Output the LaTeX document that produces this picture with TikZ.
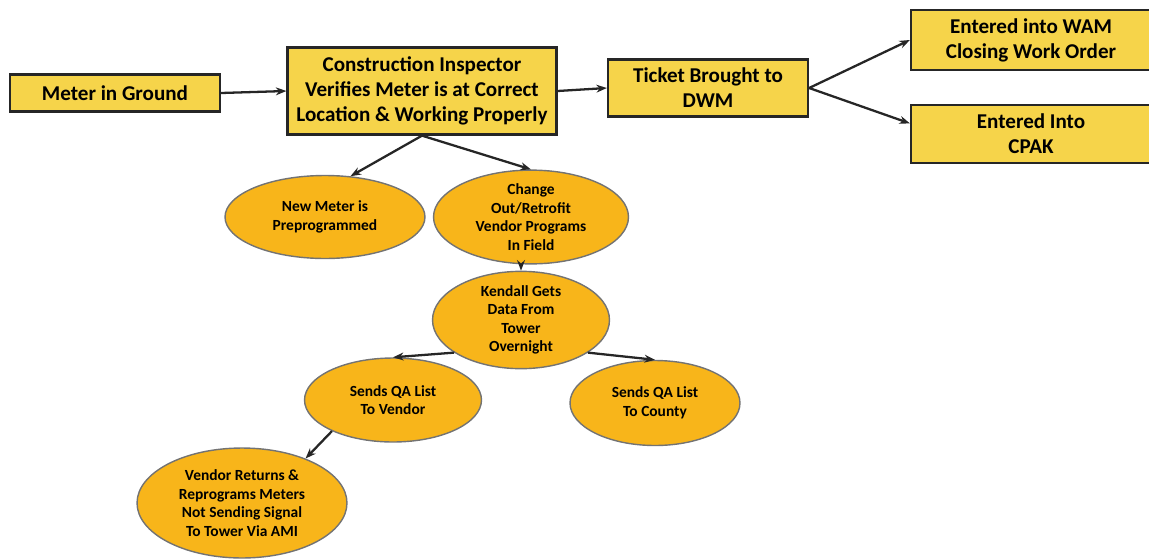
\documentclass[tikz,border=0pt]{standalone}
\usepackage{fontspec}
\setmainfont{Carlito}
\usetikzlibrary{shapes.geometric,arrows.meta}

\definecolor{boxyellow}{HTML}{F6D44A}
\definecolor{ovalgold}{HTML}{F8B51A}

\begin{document}
\begin{tikzpicture}[x=0.02cm, y=-0.02cm,
        stepbox/.style={draw=black!85, line width=1.3pt, fill=boxyellow, align=center,
            font=\fontsize{12}{14.2}\selectfont\bfseries, inner sep=0pt},
        oval/.style={ellipse, draw=black!55, line width=0.8pt, fill=ovalgold, align=center,
            font=\fontsize{8.8}{10.5}\selectfont\bfseries, inner sep=0pt},
        flow/.style={-{Stealth[length=6pt,width=4.5pt]}, line width=1.3pt, black!85}]
    \clip (0,0) rectangle (1149,558);

    % top row of boxes
    \node[stepbox, minimum width=4.2cm, minimum height=0.74cm] (meter) at (115,93) {Meter in Ground};
    \node[stepbox, minimum width=5.38cm, minimum height=1.74cm] (insp) at (422,91)
        {Construction Inspector\\Verifies Meter is at Correct\\Location \& Working Properly};
    \node[stepbox, minimum width=4cm, minimum height=1.14cm] (tick) at (708,88) {Ticket Brought to\\DWM};
    \node[stepbox, minimum width=4.8cm, minimum height=1.2cm] (wam) at (1031,40)
        {Entered into WAM\\Closing Work Order};
    \node[stepbox, minimum width=4.8cm, minimum height=1.16cm] (cpak) at (1031,134) {Entered Into\\CPAK};

    % ovals
    \node[oval, minimum width=4.0cm, minimum height=1.66cm] (newm) at (325,217) {New Meter is\\Preprogrammed};
    \node[oval, minimum width=3.9cm, minimum height=1.74cm] (chg) at (531,217)
        {Change\\Out/Retrofit\\Vendor Programs\\In Field};
    \node[oval, minimum width=3.54cm, minimum height=1.7cm] (kend) at (521,320)
        {Kendall Gets\\Data From\\Tower\\Overnight};
    \node[oval, minimum width=3.54cm, minimum height=1.68cm] (vend) at (393,400) {Sends QA List\\To Vendor};
    \node[oval, minimum width=3.4cm, minimum height=1.7cm] (cnty) at (655,403) {Sends QA List\\To County};
    \node[oval, minimum width=4.2cm, minimum height=2.2cm] (retn) at (242,503)
        {Vendor Returns \&\\Reprograms Meters\\Not Sending Signal\\To Tower Via AMI};

    % arrows
    \draw[flow] (meter.east) -- (insp.west);
    \draw[flow] (insp.east) -- (tick.west);
    \draw[flow] (tick.east) -- (wam.west);
    \draw[flow] (tick.east) -- (cpak.175);
    \draw[flow] (insp.south) -- (newm.58);
    \draw[flow] (insp.south) -- (chg.north);
    \draw[flow] (kend.north |- chg.south) -- (kend.north);
    \draw[flow] (kend.206) -- (vend.north);
    \draw[flow] (kend.334) -- (cnty.north);
    \draw[flow] (vend.207) -- (retn.35);
\end{tikzpicture}
\end{document}
